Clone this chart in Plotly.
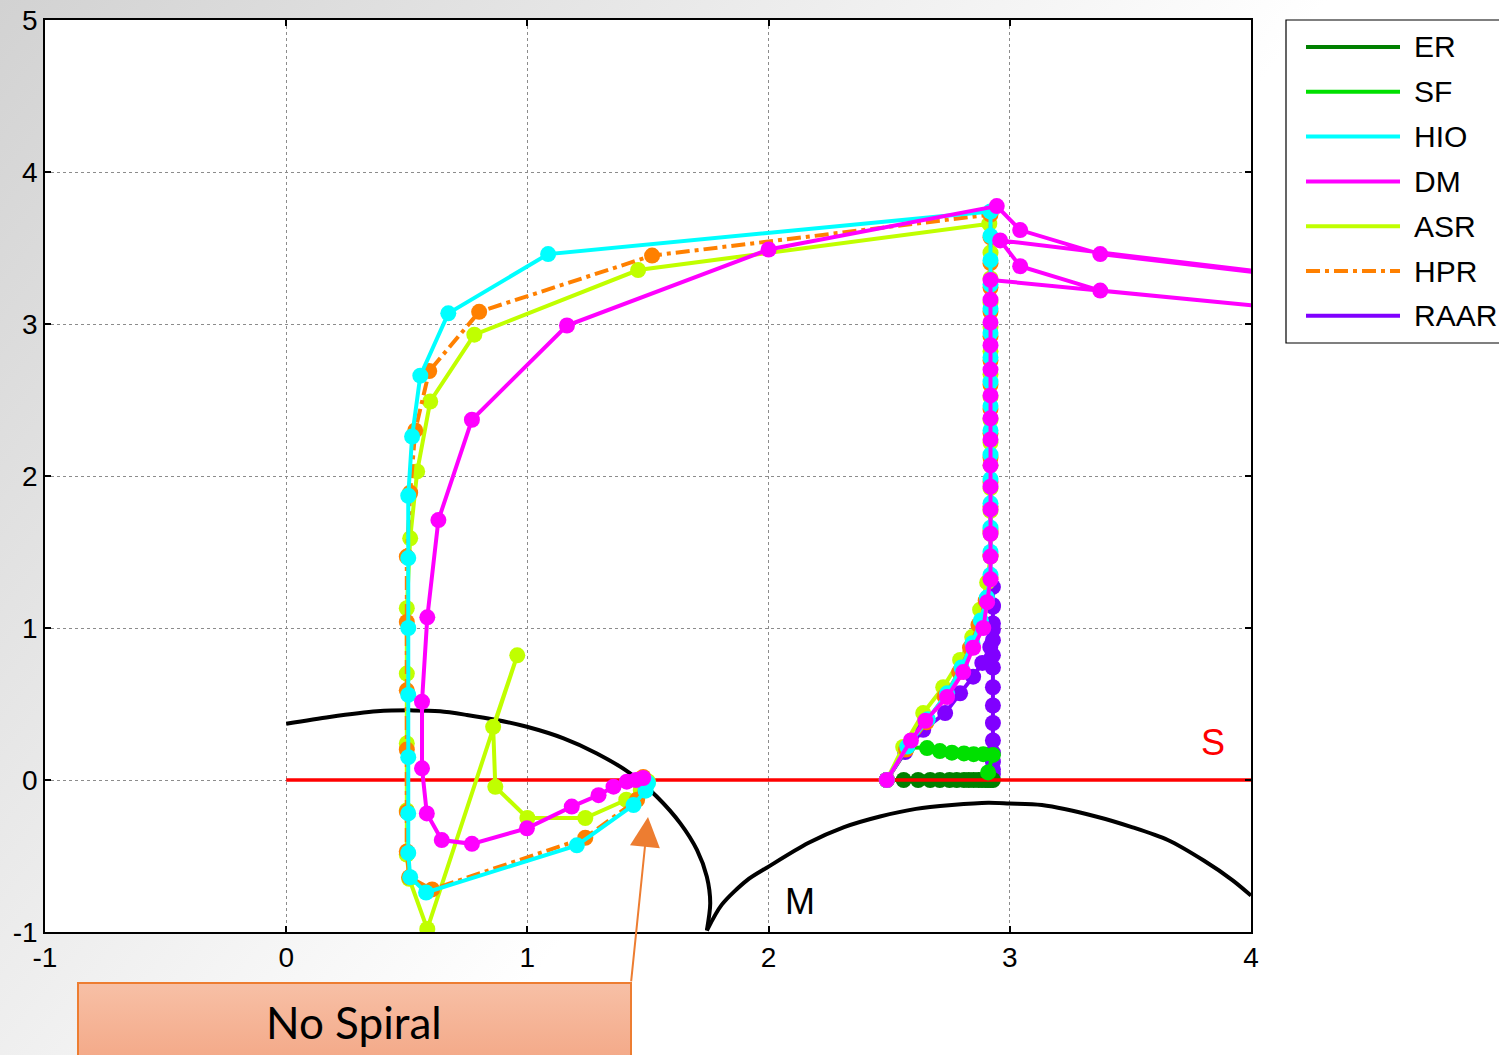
import base64
import plotly.graph_objects as go

# ---------------- data ----------------
m1_x = [0.0, 0.18, 0.376, 0.528, 0.638, 0.749, 0.873, 0.998, 1.15, 1.288, 1.426, 1.537, 1.634, 1.703, 1.744, 1.758, 1.744]
m1_y = [0.37, 0.415, 0.452, 0.458, 0.452, 0.428, 0.395, 0.35, 0.274, 0.175, 0.044, -0.11, -0.285, -0.46, -0.636, -0.81, -0.99]

m2_x = [1.744, 1.806, 1.91, 2.0, 2.164, 2.313, 2.462, 2.611, 2.76, 2.91, 2.998, 3.133, 3.357, 3.506, 3.655, 3.804, 3.924, 4.0]
m2_y = [-0.99, -0.82, -0.66, -0.57, -0.415, -0.31, -0.24, -0.19, -0.165, -0.15, -0.155, -0.165, -0.24, -0.31, -0.395, -0.53, -0.66, -0.76]

s_x = [0.0, 4.0]
s_y = [0.0, 0.0]

er_x = [2.49, 2.56, 2.62, 2.67, 2.71, 2.75, 2.78, 2.81, 2.83, 2.85, 2.87, 2.885, 2.90, 2.91, 2.92, 2.93]
er_y = [0.0, 0.0, 0.0, 0.0, 0.0, 0.0, 0.0, 0.0, 0.0, 0.0, 0.0, 0.0, 0.0, 0.0, 0.0, 0.0]

sf_x = [2.49, 2.575, 2.657, 2.71, 2.76, 2.81, 2.85, 2.89, 2.93, 2.91]
sf_y = [0.0, 0.215, 0.21, 0.19, 0.18, 0.175, 0.17, 0.17, 0.165, 0.05]

hio_x = [2.49, 2.575, 2.66, 2.74, 2.80, 2.845, 2.88, 2.905,
         2.92, 2.92, 2.92, 2.92, 2.92, 2.92, 2.92, 2.92, 2.92, 2.92, 2.92, 2.92, 2.92, 2.92, 2.92, 2.92,
         1.086, 0.672, 0.556, 0.522, 0.506, 0.506, 0.506, 0.506, 0.506, 0.506, 0.506, 0.514, 0.58,
         1.205, 1.44, 1.49, 1.50]
hio_y = [0.0, 0.22, 0.40, 0.57, 0.74, 0.90, 1.05, 1.20,
         1.35, 1.50, 1.66, 1.82, 1.98, 2.14, 2.30, 2.46, 2.62, 2.78, 2.94, 3.10, 3.26, 3.42, 3.58, 3.74,
         3.46, 3.07, 2.66, 2.26, 1.87, 1.46, 1.00, 0.56, 0.15, -0.22, -0.48, -0.64, -0.74,
         -0.43, -0.165, -0.07, -0.02]

dm_x = [2.49, 2.59, 2.65, 2.74, 2.807, 2.848, 2.89, 2.906,
        2.92, 2.92, 2.92, 2.92, 2.92, 2.92, 2.92, 2.92, 2.92, 2.92, 2.92, 2.92, 2.92, 2.92,
        5.0, 3.375, 3.043, 2.96, 5.0, 3.375, 3.043, 2.946,
        2.0, 1.164, 0.77, 0.631, 0.585, 0.563, 0.563, 0.583, 0.645, 0.77, 0.998, 1.184, 1.295,
        1.357, 1.412, 1.45, 1.48]
dm_y = [0.0, 0.26, 0.39, 0.546, 0.71, 0.87, 1.0, 1.17,
        1.32, 1.47, 1.62, 1.78, 1.93, 2.07, 2.24, 2.38, 2.53, 2.70, 2.86, 3.01, 3.16, 3.29,
        2.97, 3.22, 3.38, 3.55, 3.16, 3.46, 3.618, 3.776,
        3.49, 2.99, 2.37, 1.71, 1.07, 0.515, 0.077, -0.22, -0.395, -0.42, -0.318, -0.175, -0.10,
        -0.044, -0.011, 0.0, 0.013]

asr_x = [2.49, 2.558, 2.641, 2.724, 2.794, 2.844, 2.877, 2.906,
         2.92, 2.92, 2.92, 2.92, 2.92, 2.92, 2.92, 2.92, 2.92, 2.92, 2.92, 2.92, 2.92, 2.92, 2.915,
         1.459, 0.78, 0.597, 0.543, 0.514, 0.50, 0.50, 0.50, 0.50, 0.50,
         0.51, 0.585, 0.958, 0.858, 0.867, 1.0, 1.24, 1.41, 1.47, 1.50]
asr_y = [0.0, 0.217, 0.44, 0.61, 0.79, 0.94, 1.12, 1.30,
         1.47, 1.62, 1.77, 1.92, 2.07, 2.22, 2.37, 2.52, 2.67, 2.82, 2.98, 3.14, 3.30, 3.47, 3.66,
         3.355, 2.93, 2.49, 2.03, 1.59, 1.13, 0.70, 0.24, -0.20, -0.49,
         -0.65, -0.98, 0.82, 0.35, -0.045, -0.25, -0.25, -0.13, -0.065, -0.01]

hpr_x = [2.49, 2.57, 2.655, 2.73, 2.79, 2.835, 2.87, 2.90,
         2.92, 2.92, 2.92, 2.92, 2.92, 2.92, 2.92, 2.92, 2.92, 2.92, 2.92, 2.92, 2.92, 2.92, 2.92, 2.92,
         1.517, 0.80, 0.593, 0.535, 0.514, 0.50, 0.50, 0.50, 0.50, 0.50, 0.50,
         0.51, 0.605, 1.24, 1.455, 1.48]
hpr_y = [0.0, 0.20, 0.38, 0.55, 0.71, 0.87, 1.02, 1.18,
         1.33, 1.48, 1.64, 1.80, 1.96, 2.12, 2.28, 2.44, 2.60, 2.76, 2.92, 3.08, 3.24, 3.40, 3.57, 3.72,
         3.45, 3.08, 2.69, 2.30, 1.89, 1.47, 1.04, 0.59, 0.20, -0.21, -0.47,
         -0.64, -0.72, -0.38, -0.13, 0.02]

raar_x = [2.49, 2.566, 2.641, 2.732, 2.794, 2.848, 2.886, 2.919,
          2.93, 2.93, 2.93, 2.93, 2.93, 2.93, 2.93, 2.93, 2.93, 2.93, 2.93, 2.93, 2.93, 2.93, 2.93, 2.93]
raar_y = [0.0, 0.184, 0.33, 0.44, 0.57, 0.68, 0.77, 0.875,
          0.99, 1.14, 1.27, 1.15, 1.03, 0.92, 0.82, 0.74, 0.61, 0.49, 0.375, 0.26, 0.18, 0.12, 0.07, 0.04]

legend_names = ["ER", "SF", "HIO", "DM", "ASR", "HPR", "RAAR"]
x_ticks = [-1, 0, 1, 2, 3, 4]
x_labels = ["-1", "0", "1", "2", "3", "4"]
y_ticks = [-1, 0, 1, 2, 3, 4, 5]
y_labels = ["-1", "0", "1", "2", "3", "4", "5"]

# ---------------- styles ----------------
colors = {"ER": "#008000", "SF": "#00e000", "HIO": "#00ffff", "DM": "#ff00ff",
          "ASR": "#c0ff00", "HPR": "#ff8000", "RAAR": "#8000ff"}
dashes = {"HPR": "14px,5px,4px,5px"}
LW = 4
MS = 16
font_fam = "Liberation Sans, Arial, sans-serif"

L, R, T, B = 45, 248, 20, 123
W, H = 1499, 1055
pw, ph = W - L - R, H - T - B


def px2paper_x(px):
    return (px - L) / pw


def px2paper_y(py):
    return (H - B - py) / ph


fig = go.Figure()


def add_curve(x, y, color, width, shape="linear"):
    fig.add_trace(go.Scatter(x=x, y=y, mode="lines",
                             line=dict(color=color, width=width, shape=shape, smoothing=0.8),
                             showlegend=False, hoverinfo="skip"))


def add_series(name, x, y):
    c = colors[name]
    fig.add_trace(go.Scatter(x=x, y=y, mode="lines+markers", name=name,
                             line=dict(color=c, width=LW, dash=dashes.get(name, "solid")),
                             marker=dict(color=c, size=MS, line=dict(width=0)),
                             showlegend=False))


add_curve(m1_x, m1_y, "black", 4, "spline")
add_curve(m2_x, m2_y, "black", 4, "spline")
add_series("RAAR", raar_x, raar_y)
add_series("ER", er_x, er_y)
add_curve(s_x, s_y, "#ff0000", 3.5)
add_series("SF", sf_x, sf_y)
add_series("ASR", asr_x, asr_y)
add_series("HPR", hpr_x, hpr_y)
add_series("HIO", hio_x, hio_y)
add_series("DM", dm_x, dm_y)

# slide background (gradient), white plot area and the gradient "No Spiral" box
svg = ('<svg xmlns="http://www.w3.org/2000/svg" width="1499" height="1055">'
       '<defs>'
       '<linearGradient id="g" gradientUnits="userSpaceOnUse" x1="0" y1="0" x2="800" y2="650">'
       '<stop offset="0" stop-color="#d2d2d2"/><stop offset="1" stop-color="#ffffff"/>'
       '</linearGradient>'
       '<linearGradient id="b" x1="0" y1="0" x2="0" y2="1">'
       '<stop offset="0" stop-color="#f7c0a6"/><stop offset="1" stop-color="#f3a583"/>'
       '</linearGradient>'
       '</defs>'
       '<rect width="1499" height="1055" fill="url(#g)"/>'
       '<rect x="45" y="20" width="1206" height="912" fill="#ffffff"/>'
       '<rect x="78" y="983" width="553" height="90" fill="url(#b)" stroke="#ed7d31" stroke-width="2"/>'
       '</svg>')
src = "data:image/svg+xml;base64," + base64.b64encode(svg.encode()).decode()

fig.add_layout_image(dict(source=src, xref="paper", yref="paper",
                          x=px2paper_x(0), y=px2paper_y(0), sizex=W / pw, sizey=H / ph,
                          xanchor="left", yanchor="top", sizing="stretch", layer="below"))

axis_common = dict(showgrid=True, gridcolor="#8c8c8c", griddash="dot", gridwidth=1,
                   ticks="inside", ticklen=6, tickwidth=1.5, tickcolor="black",
                   showline=True, linecolor="black", linewidth=1.5, mirror="ticks",
                   zeroline=False, automargin=False,
                   tickfont=dict(family=font_fam, size=28, color="black"))

fig.update_layout(
    width=W, height=H,
    margin=dict(l=L, r=R, t=T, b=B, pad=0),
    paper_bgcolor="rgba(0,0,0,0)",
    plot_bgcolor="rgba(0,0,0,0)",
    xaxis=dict(range=[-1, 4], tickvals=x_ticks, ticktext=x_labels, **axis_common),
    yaxis=dict(range=[-1, 5], tickvals=y_ticks, ticktext=y_labels, **axis_common),
    showlegend=False,
)

# legend (box, line samples and labels)
fig.add_shape(type="rect", xref="paper", yref="paper",
              x0=px2paper_x(1286), x1=px2paper_x(1530), y0=px2paper_y(343), y1=px2paper_y(20),
              line=dict(color="black", width=1.2), fillcolor="white", layer="above")
row0, row_gap = 47, 44.8
for i, n in enumerate(legend_names):
    yy = px2paper_y(row0 + i * row_gap)
    fig.add_shape(type="line", xref="paper", yref="paper",
                  x0=px2paper_x(1306), x1=px2paper_x(1400), y0=yy, y1=yy,
                  line=dict(color=colors[n], width=LW, dash=dashes.get(n, "solid")), layer="above")
    fig.add_annotation(xref="paper", yref="paper", x=px2paper_x(1412), y=yy,
                       xanchor="left", yanchor="middle", text=n, showarrow=False,
                       font=dict(family=font_fam, size=30, color="black"))

fig.add_annotation(xref="paper", yref="paper", x=px2paper_x(354), y=px2paper_y(1022),
                   xanchor="center", yanchor="middle",
                   text="No Spiral", showarrow=False,
                   font=dict(family="Lato, Noto Sans, sans-serif", size=44, color="black"))

# arrow from the box to the converged point
fig.add_annotation(x=1.50, y=-0.243, xref="x", yref="y", text="", showarrow=True,
                   ax=-17, ay=166, arrowhead=2, arrowsize=3, arrowwidth=2,
                   arrowcolor="#ed7d31", standoff=0, startstandoff=0)

fig.add_annotation(x=3.843, y=0.25, xref="x", yref="y", text="S", showarrow=False,
                   xanchor="center", yanchor="middle",
                   font=dict(family=font_fam, size=36, color="#ff0000"))
fig.add_annotation(x=2.13, y=-0.80, xref="x", yref="y", text="M", showarrow=False,
                   xanchor="center", yanchor="middle",
                   font=dict(family=font_fam, size=36, color="black"))

fig.write_html("out.html")
